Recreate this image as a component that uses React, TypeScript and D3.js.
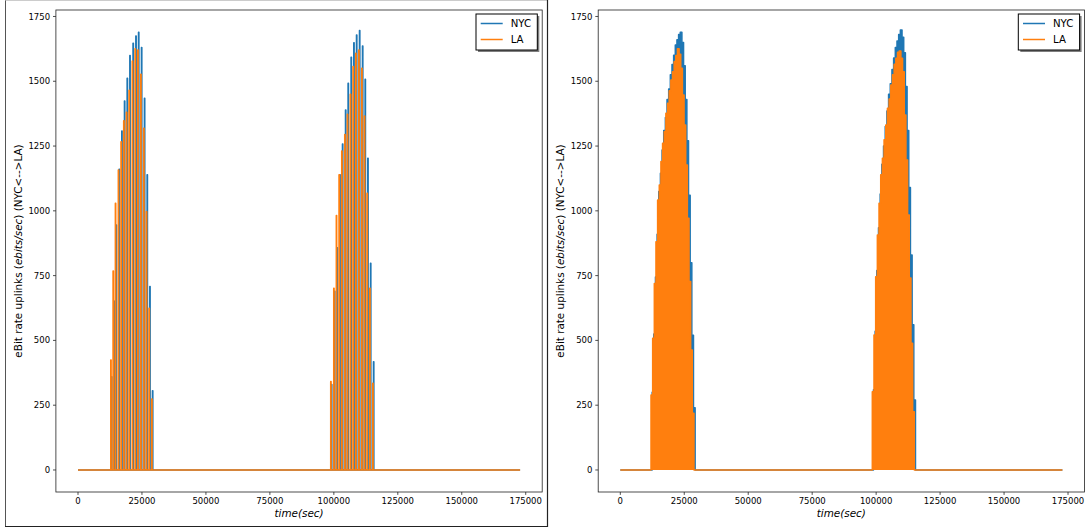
import React from 'react';
import * as d3 from 'd3';

// ---------- data ----------
const X_TICKS = [0, 25000, 50000, 75000, 100000, 125000, 150000, 175000];
const Y_TICKS = [0, 250, 500, 750, 1000, 1250, 1500, 1750];
const T_END = 172800;
const SERIES_NAMES = ['NYC', 'LA'];
const X_LABEL = 'time(sec)';

// Left panel: short uplink bursts (start time s, height)
const leftLATimes1 = [12800, 13700, 14600, 15750, 16800, 17850, 18900, 19950, 21200, 22300, 23350, 24500, 25650, 26700, 27750, 28800];
const leftLAValues1 = [424, 768, 1029, 1158, 1267, 1348, 1380, 1465, 1578, 1625, 1621, 1527, 1319, 997, 624, 274];
const leftNYCTimes1 = [13100, 14000, 14900, 16050, 17100, 18150, 19200, 20250, 21500, 22600, 23650, 24800, 25950, 27000, 28050, 29100];
const leftNYCValues1 = [360, 652, 945, 1160, 1308, 1424, 1512, 1599, 1647, 1675, 1689, 1630, 1434, 1139, 708, 306];
const leftLATimes2 = [98770, 99950, 100960, 102020, 103070, 104250, 105260, 106430, 107490, 108550, 109720, 110890, 111910, 112960, 114020, 115190];
const leftLAValues2 = [341, 701, 982, 1139, 1231, 1295, 1373, 1450, 1557, 1608, 1621, 1550, 1366, 1068, 701, 335];
const leftNYCTimes2 = [99070, 100250, 101260, 102320, 103370, 104550, 105560, 106730, 107790, 108850, 110020, 111190, 112210, 113260, 114320, 115490];
const leftNYCValues2 = [330, 690, 858, 1139, 1258, 1389, 1492, 1593, 1649, 1679, 1696, 1636, 1508, 1203, 798, 418];
const PULSE_WIDTH = 150;

// Right panel: continuous uplink levels per interval
const rightLAPass1 = { start: 12000, step: 646, values: [289, 508, 720, 881, 1042, 1100, 1190, 1261, 1306, 1377, 1415, 1463, 1505, 1537, 1576, 1599, 1625, 1604, 1550, 1447, 1331, 1177, 971, 727, 463, 219] };
const rightNYCPass1 = { start: 12450, step: 646, values: [300, 525, 745, 910, 1075, 1145, 1235, 1310, 1360, 1430, 1470, 1525, 1565, 1600, 1640, 1660, 1680, 1689, 1650, 1560, 1430, 1270, 1060, 800, 520, 240] };
const rightLAPass2 = { start: 98500, step: 657, values: [302, 521, 746, 907, 1029, 1139, 1203, 1274, 1331, 1396, 1432, 1486, 1525, 1566, 1589, 1612, 1617, 1589, 1537, 1370, 1196, 984, 741, 489, 225] };
const rightNYCPass2 = { start: 98950, step: 657, values: [310, 535, 770, 935, 1065, 1180, 1250, 1325, 1385, 1450, 1490, 1545, 1590, 1630, 1655, 1680, 1698, 1670, 1610, 1480, 1310, 1090, 830, 560, 270] };

// ---------- style ----------
const BLUE = '#1f77b4';
const ORANGE = '#ff7f0e';
const FONT = '"DejaVu Sans", sans-serif';
const AX = { left: 55.9, right: 542.2, top: 10, bottom: 492 };
const X_DOMAIN = [-8640, 181440];
const Y_DOMAIN = [-85, 1775];
const PANEL_DX = 542.3;
const LINE_W = 1.5;

type Pt = [number, number];

function pulseLine(groups: { times: number[]; values: number[] }[], width: number): Pt[] {
  const pts: Pt[] = [[0, 0]];
  groups.forEach((g) =>
    g.times.forEach((t, i) => {
      const v = g.values[i];
      pts.push([t, 0], [t, v], [t + width, v], [t + width, 0]);
    })
  );
  pts.push([T_END, 0]);
  return pts;
}

function stepLine(passes: { start: number; step: number; values: number[] }[]): Pt[] {
  const pts: Pt[] = [[0, 0]];
  passes.forEach((p) => {
    pts.push([p.start, 0]);
    p.values.forEach((v, i) => {
      pts.push([p.start + i * p.step, v], [p.start + (i + 1) * p.step, v]);
    });
    pts.push([p.start + p.values.length * p.step, 0]);
  });
  pts.push([T_END, 0]);
  return pts;
}

function Panel({ dx, nyc, la, filled }: { dx: number; nyc: Pt[]; la: Pt[]; filled: boolean }) {
  const x = d3.scaleLinear().domain(X_DOMAIN).range([AX.left, AX.right]);
  const y = d3.scaleLinear().domain(Y_DOMAIN).range([AX.bottom, AX.top]);
  const line = d3
    .line<Pt>()
    .x((d) => x(d[0]))
    .y((d) => y(d[1]));
  const cx = (AX.left + AX.right) / 2;
  const cy = (AX.top + AX.bottom) / 2;
  const lx = 476, ly = 14, lw = 61.3, lh = 36;
  return (
    <g transform={`translate(${dx},0)`}>
      <path d={line(nyc) || ''} fill={filled ? BLUE : 'none'} stroke={BLUE} strokeWidth={LINE_W} strokeLinejoin="round" />
      <path d={line(la) || ''} fill={filled ? ORANGE : 'none'} stroke={ORANGE} strokeWidth={LINE_W} strokeLinejoin="round" />
      {/* spines */}
      <rect x={AX.left} y={AX.top} width={AX.right - AX.left} height={AX.bottom - AX.top} fill="none" stroke="#222" strokeWidth={0.8} />
      {/* y ticks */}
      {Y_TICKS.map((t) => (
        <g key={'y' + t}>
          <line x1={AX.left - 2.9} x2={AX.left} y1={y(t)} y2={y(t)} stroke="#222" strokeWidth={0.8} />
          <text x={AX.left - 5.8} y={y(t)} dy="0.36em" textAnchor="end" fontSize={8.5} fontFamily={FONT} fill="#000">
            {t}
          </text>
        </g>
      ))}
      {/* x ticks */}
      {X_TICKS.map((t) => (
        <g key={'x' + t}>
          <line x1={x(t)} x2={x(t)} y1={AX.bottom} y2={AX.bottom + 2.9} stroke="#222" strokeWidth={0.8} />
          <text x={x(t)} y={AX.bottom + 5.8} dy="0.76em" textAnchor="middle" fontSize={8.5} fontFamily={FONT} fill="#000">
            {t}
          </text>
        </g>
      ))}
      <text x={cx} y={516.5} textAnchor="middle" fontSize={10.4} fontFamily={FONT} fontStyle="italic" fill="#000">
        {X_LABEL}
      </text>
      <text transform={`translate(18,${cy}) rotate(-90)`} textAnchor="middle" dy="0.36em" fontSize={10.4} fontFamily={FONT} fill="#000">
        eBit rate uplinks (<tspan fontStyle="italic">ebits/sec</tspan>) (NYC{'<-->'}LA)
      </text>
      {/* legend */}
      <rect x={lx + 2} y={ly + 2} width={lw} height={lh} fill="#000" opacity={0.5} />
      <rect x={lx} y={ly} width={lw} height={lh} fill="#fff" stroke="#000" strokeWidth={1} />
      {SERIES_NAMES.map((name, i) => (
        <g key={name}>
          <line x1={480.7} x2={502.7} y1={23.5 + i * 16} y2={23.5 + i * 16} stroke={i === 0 ? BLUE : ORANGE} strokeWidth={LINE_W} />
          <text x={510.7} y={23.5 + i * 16} dy="0.36em" fontSize={10.2} fontFamily={FONT} fill="#000">
            {name}
          </text>
        </g>
      ))}
    </g>
  );
}

export default function App() {
  const leftNYC = pulseLine(
    [
      { times: leftNYCTimes1, values: leftNYCValues1 },
      { times: leftNYCTimes2, values: leftNYCValues2 },
    ],
    PULSE_WIDTH
  );
  const leftLA = pulseLine(
    [
      { times: leftLATimes1, values: leftLAValues1 },
      { times: leftLATimes2, values: leftLAValues2 },
    ],
    PULSE_WIDTH
  );
  const rightNYC = stepLine([rightNYCPass1, rightNYCPass2]);
  const rightLA = stepLine([rightLAPass1, rightLAPass2]);
  return (
    <svg width={1085} height={529} style={{ position: 'absolute', left: 0, top: 0, background: '#fff' }}>
      <rect x={0} y={0} width={1085} height={529} fill="#fff" />
      {/* frame around left figure */}
      <line x1={5} x2={547.5} y1={0.5} y2={0.5} stroke="#ccc" strokeWidth={1} />
      <line x1={5.5} x2={5.5} y1={0.5} y2={527} stroke="#555" strokeWidth={1} />
      <line x1={5} x2={547.5} y1={526.5} y2={526.5} stroke="#222" strokeWidth={1} />
      <line x1={547.5} x2={547.5} y1={0} y2={527} stroke="#222" strokeWidth={1.2} />
      <Panel dx={0} nyc={leftNYC} la={leftLA} filled={false} />
      <Panel dx={PANEL_DX} nyc={rightNYC} la={rightLA} filled={true} />
    </svg>
  );
}
